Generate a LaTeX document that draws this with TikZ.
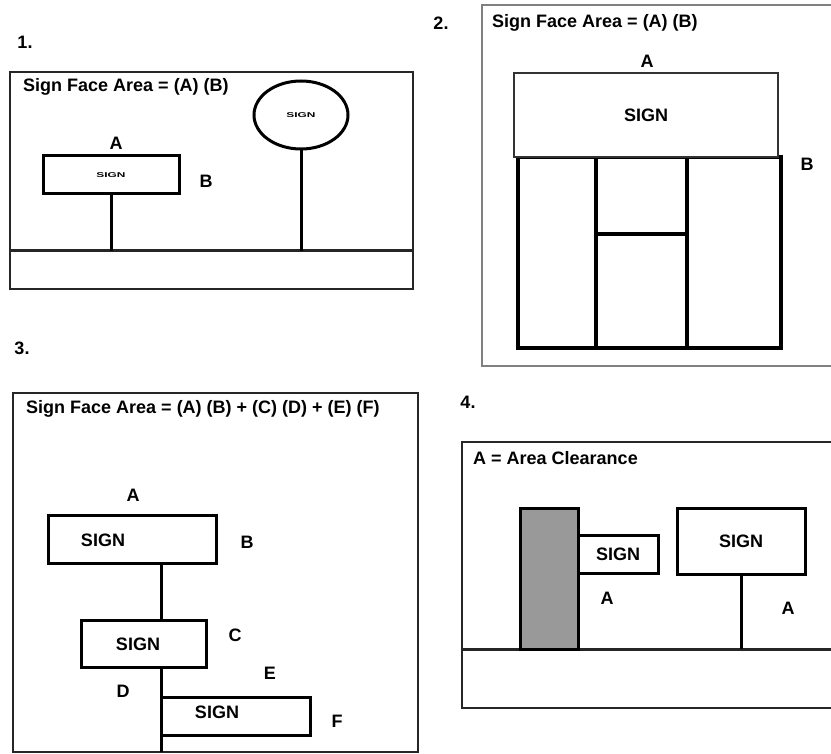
\documentclass[tikz,border=0pt]{standalone}
\usepackage{fontspec}
\setmainfont{Liberation Sans}
\usetikzlibrary{shapes.geometric,calc}
\begin{document}
\begin{tikzpicture}[x=1pt,y=-1pt,
 frame/.style={draw=black!85, line width=2pt},
 grnd/.style={draw=black!85, line width=3pt},
 sgn/.style={draw, line width=3pt, fill=white, inner sep=0pt, font=\fontsize{18}{20}\selectfont\bfseries},
 pole/.style={draw, line width=3pt},
 lab/.style={inner sep=0pt, font=\fontsize{18}{20}\selectfont\bfseries},
 tinysign/.style={font=\fontsize{7}{8}\selectfont\bfseries}]
\useasboundingbox (0,0) rectangle (831,754);
\clip (0,0) rectangle (831,754);
\fill[white] (0,0) rectangle (831,754);

% ---------- Panel 1 ----------
\node[lab] (n1) at (25,42) {1.};
\draw[frame] (10,72) rectangle (413,289);
\coordinate (g1l) at (10,251);
\coordinate (g1r) at (413,251);
\draw[grnd] (g1l) -- (g1r);
\node[lab,anchor=west] (t1) at (23,87) {Sign Face Area = (A) (B)};
\node[sgn, tinysign, minimum width=136pt, minimum height=38pt] (s1) at (111,175) {\scalebox{1.7}[1]{SIGN}};
\coordinate (g1a) at (111,251);
\draw[pole] (s1.south) -- (g1a);
\node[lab] (a1) at (116,143) {A};
\node[lab] (b1) at (206,181) {B};
\node[ellipse, draw, line width=3pt, fill=white, inner sep=0pt, tinysign, minimum width=94pt, minimum height=68pt] (e1) at (301,115) {\scalebox{1.7}[1]{SIGN}};
\draw[pole] (e1.south) -- (e1.south |- g1a);

% ---------- Panel 2 ----------
\node[lab] (n2) at (441,23) {2.};
\draw[draw=black!50, line width=2pt] (840,5) -- (482,5) -- (482,366) -- (840,366);
\node[lab,anchor=west] (t2) at (492,23) {Sign Face Area = (A) (B)};
\node[lab] (a2) at (647,61) {A};
\draw[line width=3.5pt] (518,157) rectangle (781,348);
\draw[line width=3.5pt] (596,157) -- (596,348) (687,157) -- (687,348) (596,234) -- (687,234);
\node[sgn, draw=black!80, line width=2.5pt, minimum width=264pt, minimum height=84pt] (s2) at (646,115) {SIGN};
\node[lab] (b2) at (807,164) {B};

% ---------- Panel 3 ----------
\node[lab] (n3) at (22,348) {3.};
\draw[frame] (13,393) rectangle (418,752);
\node[lab,anchor=west] (t3) at (26,409) {Sign Face Area = (A) (B) + (C) (D) + (E) (F)};
\coordinate (p3) at (161,752);
\node[sgn, minimum width=168pt, minimum height=48pt] (s3a) at (132,539) {};
\node[lab] (s3at) at (103,540) {SIGN};
\node[sgn, minimum width=125pt, minimum height=47pt] (s3b) at (143.5,643.5) {};
\node[lab] (s3bt) at (138,644) {SIGN};
\node[sgn, minimum width=149pt, minimum height=38pt] (s3c) at (235.5,716) {};
\node[lab] (s3ct) at (217,712) {SIGN};
\draw[pole] (s3a.south -| p3) -- (s3b.north -| p3);
\draw[pole] (s3b.south -| p3) -- (p3);
\node[lab] (a3) at (133,495) {A};
\node[lab] (b3) at (247,542) {B};
\node[lab] (c3) at (235,635) {C};
\node[lab] (d3) at (123,691) {D};
\node[lab] (e3) at (270,673) {E};
\node[lab] (f3) at (337,721) {F};

% ---------- Panel 4 ----------
\node[lab] (n4) at (468,402) {4.};
\draw[frame] (840,442) -- (462,442) -- (462,708) -- (840,708);
\coordinate (g4l) at (462,649);
\coordinate (g4r) at (840,649);
\draw[grnd] (g4l) -- (g4r);
\node[lab,anchor=west] (t4) at (473,458) {A = Area Clearance};
\node[draw, line width=3pt, fill=black!40, inner sep=0pt, minimum width=58pt, minimum height=141pt] (bl4) at (549,578.5) {};
\node[sgn, minimum width=80pt, minimum height=38pt] (s4a) at (618,554) {SIGN};
\node[lab] (a4a) at (607,598) {A};
\node[sgn, minimum width=128pt, minimum height=66pt] (s4b) at (741,541) {SIGN};
\draw[pole] (s4b.south) -- (s4b.south |- g4l);
\node[lab] (a4b) at (788,608) {A};
\end{tikzpicture}
\end{document}
